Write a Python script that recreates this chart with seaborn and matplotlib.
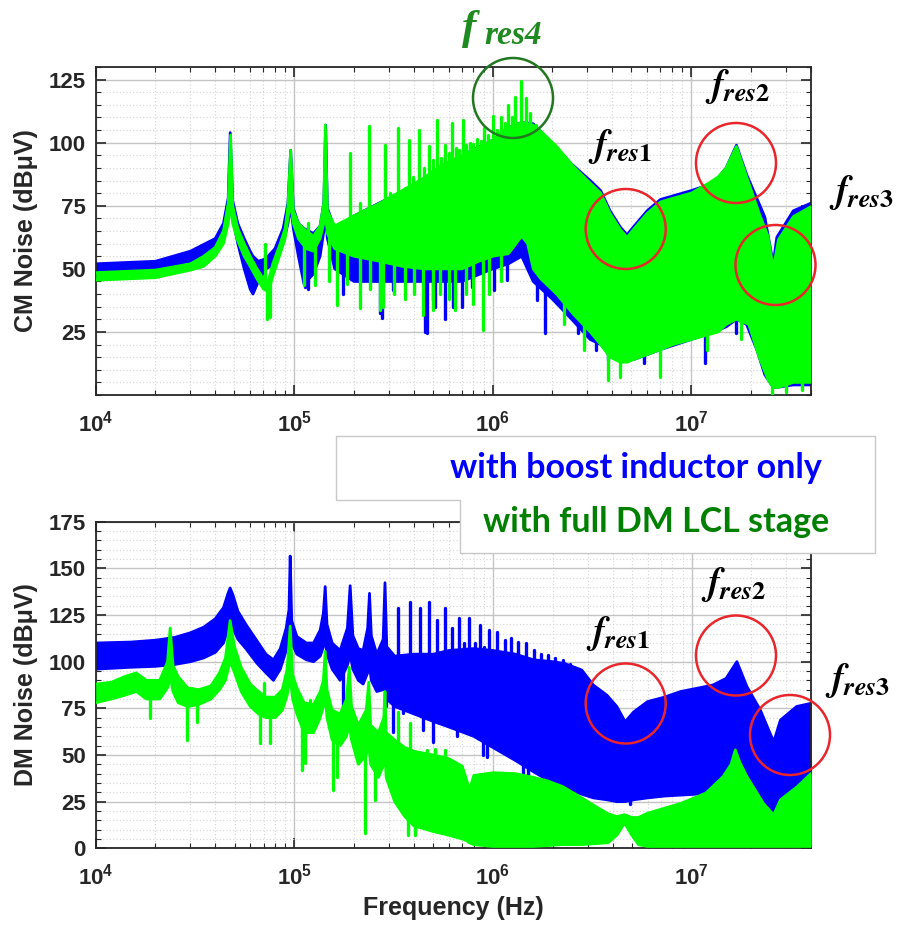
import numpy as np
import pandas as pd
import matplotlib
matplotlib.use("Agg")
import matplotlib.pyplot as plt
from matplotlib.patches import Ellipse, Polygon
from matplotlib.ticker import FixedLocator, FixedFormatter, LogLocator, MultipleLocator, NullFormatter
import seaborn as sns

BLUE = "#0000ff"
GREEN = "#00ff00"

# ---------------- CM noise: with boost inductor only (blue) ----------------
cm_blue_f = [10e3, 20e3, 30e3, 40e3, 44e3, 46.5e3, 47.6e3, 49e3, 52e3, 56e3, 60e3, 62e3,
             66e3, 72e3, 80e3, 88e3, 93e3, 96e3, 99e3, 105e3, 112e3, 125e3, 135e3, 141e3,
             144e3, 147e3, 160e3, 200e3, 300e3, 500e3, 700e3, 1e6, 1.2e6, 1.4e6, 1.6e6,
             2e6, 2.5e6, 3.1e6, 3.5e6, 3.9e6, 4.4e6, 4.75e6, 5.1e6, 6e6, 7e6, 10e6, 13e6,
             15e6, 16.9e6, 19e6, 21.4e6, 23.5e6, 25.9e6, 27e6, 32.7e6, 40e6]
cm_blue_lo = [49, 50, 53, 58, 63, 70, 78, 70, 60, 50, 42, 40,
              45, 50, 52, 60, 68, 75, 66, 55, 44, 48, 55, 65,
              70, 62, 50, 45, 45, 45, 45, 50, 52, 55, 45,
              38, 30, 22, 20, 16, 14, 14, 14, 16, 18, 22, 25,
              27, 30, 28, 18, 8, 3, 3, 4, 4]
cm_blue_hi = [52, 53, 57, 62, 68, 78, 104, 77, 68, 62, 57, 55,
              53, 54, 58, 66, 76, 97, 74, 68, 66, 64, 67, 76,
              107, 74, 66, 71, 78, 87, 95, 101, 106, 108, 107.5,
              99.5, 91.5, 85, 81, 73, 66.5, 63.5, 66.5, 73, 77.5, 81, 84,
              90, 99, 87.5, 78, 70.5, 52, 62.5, 73, 76]
cm_blue_dip_f = [113e3, 118e3, 176e3, 270e3, 276e3, 315e3, 455e3, 465e3, 500e3, 515e3,
                 575e3, 630e3, 700e3, 790e3, 1.02e6, 1.18e6, 1.45e6, 1.67e6, 1.83e6,
                 2.7e6, 3.3e6, 3.8e6, 5.8e6, 11.7e6, 16.8e6, 23e6, 36e6]
cm_blue_dip_db = [43, 42, 40, 32.5, 30.5, 41.7, 25, 24.6, 37.7, 35,
                  30, 35, 35, 43, 41.7, 45.6, 54.8, 37.7, 24.6,
                  24.6, 18, 14, 12.7, 12.7, 24.6, 15, 4.6]

# ---------------- CM noise: with full DM LCL stage (green) ----------------
cm_green_f = [10e3, 20e3, 30e3, 35e3, 40e3, 44e3, 46.5e3, 47.8e3, 49e3, 52e3, 56e3, 60e3,
              65e3, 70e3, 74e3, 78e3, 85e3, 90e3, 93e3, 96e3, 99e3, 105e3, 115e3, 125e3,
              135e3, 141e3, 143.6e3, 147e3, 160e3, 200e3, 270e3, 350e3, 450e3, 550e3,
              700e3, 850e3, 1e6, 1.2e6, 1.4e6, 1.5e6, 1.6e6, 1.75e6, 2.1e6, 2.55e6, 3.1e6,
              3.5e6, 3.9e6, 4.4e6, 4.75e6, 5.1e6, 6e6, 7e6, 8.1e6, 10e6, 12.3e6, 13.7e6,
              15e6, 16.9e6, 19.5e6, 22e6, 24.4e6, 25.9e6, 27.5e6, 32.7e6, 40e6]
cm_green_lo = [45.5, 46.5, 49.5, 51, 55, 60, 68, 76, 68, 61, 55, 51,
               46, 42, 41, 47, 56, 62, 70, 76, 68, 62, 58, 57,
               62, 68, 72, 64, 58, 55, 53, 51, 50, 50,
               50, 53, 55, 56, 63, 60, 50, 46, 40, 32, 25,
               20, 15, 13, 13, 14, 16, 18, 20, 22, 24, 25,
               28, 30, 28, 15, 6, 3, 3, 5, 5]
cm_green_hi = [48.5, 49.5, 52, 55, 58.5, 65, 76, 103, 75, 66, 60, 55,
               50, 46, 45, 52, 60, 66, 75, 97, 73, 68, 65, 63,
               67, 76, 107, 73, 67, 71, 76, 81, 86, 91,
               95, 98, 101, 106, 108, 107.5, 107, 104.5, 98.5, 90.6, 84,
               80, 72, 65.5, 62.5, 65.5, 72, 76.5, 78, 80, 84, 86.5,
               90, 98.5, 84, 72, 62.8, 50, 61.5, 70.7, 74.6]
cm_green_peak_f = [71.3e3, 117e3, 191e3, 215e3, 238e3, 260e3, 286e3, 303e3, 334e3, 360e3,
                   380e3, 398e3, 426e3, 450e3, 478e3, 500e3, 526e3, 550e3, 576e3, 600e3,
                   622e3, 650e3, 680e3, 706e3, 735e3, 769e3, 800e3, 836e3, 870e3, 904e3,
                   950e3, 1.0e6, 1.05e6, 1.097e6, 1.15e6, 1.2e6, 1.25e6, 1.295e6, 1.383e6,
                   1.472e6, 1.542e6, 1.652e6]
cm_green_peak_db = [60, 68, 96, 76, 106.5, 75, 99, 80, 106, 82,
                    101, 86.5, 105, 90, 98.8, 93, 109, 94, 99.2, 96,
                    107.8, 98, 97, 109, 99, 100, 99.5, 101.6, 100.5, 105.8,
                    103, 110.4, 105, 110.2, 108, 115, 110, 118, 124.3,
                    117.7, 111.8, 107]
cm_green_dip_f = [73e3, 75.5e3, 112e3, 127e3, 150e3, 165e3, 185e3, 215e3, 240e3, 270e3,
                  280e3, 320e3, 360e3, 400e3, 445e3, 500e3, 540e3, 600e3, 645e3, 730e3,
                  800e3, 890e3, 960e3, 1.1e6, 2.3e6, 2.9e6, 3.8e6, 4.4e6, 7e6, 12e6,
                  17.8e6, 25.5e6, 30e6, 36e6]
cm_green_dip_db = [30, 31, 43.6, 43.6, 45, 35.7, 44, 34.5, 42, 33.7,
                   35, 40, 38, 40, 31.7, 33.7, 40, 38, 33.7, 40,
                   36, 25.8, 40, 45, 28, 18, 6, 7, 7, 18,
                   22, 0.5, 1, 2]

# ---------------- DM noise: with boost inductor only (blue) ----------------
dm_blue_f = [10e3, 15e3, 20e3, 25e3, 30e3, 35e3, 40e3, 44e3, 46.5e3, 47.5e3, 49e3, 52e3,
             57e3, 65e3, 72e3, 78.5e3, 85e3, 91e3, 94e3, 95.3e3, 97e3, 103e3, 115e3, 125e3,
             135e3, 140e3, 143e3, 146e3, 155e3, 170e3, 185e3, 191e3, 197e3, 210e3, 222e3,
             234e3, 239e3, 244e3, 260e3, 280e3, 286e3, 292e3, 320e3, 400e3, 500e3, 600e3,
             800e3, 1e6, 1.3e6, 1.6e6, 2e6, 2.3e6, 2.8e6, 3.2e6, 3.75e6, 4.2e6, 4.63e6,
             5.1e6, 6e6, 7.3e6, 8.8e6, 10.6e6, 12.8e6, 14.9e6, 16.9e6, 19e6, 22.2e6, 25.9e6,
             28e6, 33.8e6, 40e6]
dm_blue_lo = [96, 97, 97.5, 98.5, 100, 102, 105, 110, 118, 122, 118, 112,
              107, 99, 94, 90, 96, 106, 114, 118, 110, 104, 101, 100,
              103, 108, 112, 104, 96, 90, 98, 104, 96, 90, 88,
              94, 98, 90, 84, 85, 88, 80, 76, 72, 68, 65,
              60, 54, 47, 41, 35, 32, 29, 27, 26, 25, 25,
              26, 27, 28, 28.5, 29, 31, 36, 40, 35, 25, 17,
              24, 30, 36]
dm_blue_hi = [110, 110.5, 111.5, 113, 115.5, 118.5, 123, 129, 137, 139.5, 136, 127,
              120, 111, 104, 101, 107, 118, 128, 156.6, 122, 113.5, 110, 110,
              117, 126, 140.2, 120, 110, 106, 118, 140.7, 114, 107, 106,
              118, 136.6, 114, 104, 112, 142.3, 108, 103, 104, 104, 106,
              107, 106, 104, 101, 100, 99, 95.5, 87.5, 82, 76, 67.8,
              73, 78.6, 81, 84, 85.7, 87.5, 91, 100, 86.6, 74, 57,
              68.7, 76, 77.7]
dm_blue_peak_f = [334e3, 380e3, 431e3, 479e3, 524e3, 574e3, 620e3, 675e3, 715e3, 760e3,
                  810e3, 860e3, 905e3, 955e3, 1.05e6, 1.15e6, 1.23e6, 1.34e6, 1.47e6,
                  1.61e6, 1.75e6, 1.9e6, 2.05e6, 2.25e6, 2.45e6, 2.7e6]
dm_blue_peak_db = [128.5, 132, 128.7, 132, 122.3, 128.7, 118, 123.2, 110, 123.2,
                   110, 119.6, 108, 117, 116, 111.6, 112.5, 110.7, 109.8,
                   106.2, 104, 103.5, 102, 101, 99, 96]
dm_blue_dip_f = [176e3, 290e3, 314e3, 354e3, 443e3, 500e3, 660e3, 890e3, 930e3, 1.42e6,
                 1.5e6, 1.87e6, 2.4e6, 4.9e6]
dm_blue_dip_db = [75, 76, 62.5, 72.5, 63.4, 57, 60, 50, 49, 38.4,
                  36.6, 29.6, 26, 24]

# ---------------- DM noise: with full DM LCL stage (green) ----------------
dm_green_f = [10e3, 12e3, 14e3, 16e3, 18e3, 21e3, 23e3, 23.7e3, 24.5e3, 26e3, 29e3, 33e3,
              38e3, 42e3, 45e3, 47.5e3, 50e3, 54e3, 60e3, 66e3, 72e3, 80e3, 87e3, 92e3,
              95.3e3, 98e3, 103e3, 112e3, 125e3, 135e3, 140e3, 143e3, 146e3, 155e3, 170e3,
              183e3, 189e3, 194e3, 210e3, 230e3, 237e3, 242e3, 265e3, 282e3, 286e3, 290e3,
              320e3, 360e3, 400e3, 500e3, 600e3, 700e3, 740e3, 760e3, 800e3, 1e6, 1.3e6,
              1.6e6, 1.9e6, 2.25e6, 2.8e6, 3.3e6, 3.8e6, 4.2e6, 4.6e6, 5.0e6, 5.4e6, 6e6,
              8.8e6, 11.8e6, 14.4e6, 15.8e6, 16.6e6, 17.5e6, 19e6, 23e6, 25.9e6, 28e6,
              34e6, 40e6]
dm_green_lo = [78, 80, 82, 84, 80, 80, 86, 92, 84, 78, 76, 77,
               80, 85, 90, 100, 94, 84, 76, 72, 70, 70, 74, 82,
               92, 80, 72, 62, 62, 70, 76, 82, 70, 58, 55,
               60, 66, 58, 45, 50, 55, 45, 38, 45, 50, 38,
               25, 17, 12, 9, 7, 5, 4, 3, 2, 1, 1,
               1, 1.5, 2, 2, 2.5, 3, 7, 13.5, 7, 2, 1,
               1, 1, 1, 1, 1, 1, 1, 1, 1, 1,
               1, 1]
dm_green_hi = [88, 89, 92, 94, 90, 90, 100, 118, 98, 92, 86, 85,
               87, 94, 102, 122, 108, 97, 88, 84, 81, 81, 85, 96,
               119, 93, 86, 78, 77, 84, 90, 105.5, 85, 74, 72,
               80, 97, 76, 66, 74, 89, 66, 62, 70, 84, 62,
               58, 54, 52, 50, 48, 44, 36, 31, 39, 40.5, 40,
               38, 36, 33, 27, 22.3, 18.5, 17, 18, 16.5, 16.5, 18.8,
               24, 29.6, 38.4, 45, 52.7, 46, 38.4, 24, 17.9, 26,
               33, 40.2]
dm_green_peak_f = [70e3, 120e3, 176e3, 334e3, 380e3, 464e3, 510e3, 575e3]
dm_green_peak_db = [88.5, 79.5, 73.2, 73.2, 67, 52.7, 53.2, 52.7]
dm_green_dip_f = [18.7e3, 28.7e3, 32.2e3, 67e3, 75.4e3, 109e3, 113e3, 157e3, 164e3,
                  227e3, 254e3, 374e3, 404e3]
dm_green_dip_db = [69.7, 58, 67.8, 56.3, 56.3, 42, 45.6, 31, 38.4,
                   8.2, 26, 7.1, 7.1]

x_ticks = [1e4, 1e5, 1e6, 1e7]
x_labels = [r"$\mathbf{10^{4}}$", r"$\mathbf{10^{5}}$", r"$\mathbf{10^{6}}$", r"$\mathbf{10^{7}}$"]
cm_yticks = [25, 50, 75, 100, 125]
dm_yticks = [0, 25, 50, 75, 100, 125, 150, 175]

sns.set_theme(style="white")
plt.rcParams["font.family"] = ["Liberation Sans", "DejaVu Sans"]
plt.rcParams["font.weight"] = "bold"
plt.rcParams["axes.labelweight"] = "bold"
plt.rcParams["mathtext.fontset"] = "custom"
plt.rcParams["mathtext.bf"] = "Liberation Sans:bold"
plt.rcParams["mathtext.rm"] = "Liberation Sans:bold"

W, H = 901, 930
fig = plt.figure(figsize=(W / 100, H / 100), dpi=100)
fig.patch.set_facecolor("white")


def fx(px):
    return px / W


def fy(py):
    return 1 - py / H


ax_cm = fig.add_axes([fx(95.7), fy(395), (810.7 - 95.7) / W, (395 - 67) / H])
ax_dm = fig.add_axes([fx(95.7), fy(848.3), (811.2 - 95.7) / W, (848.3 - 521.7) / H])


def draw_band(ax, f, lo, hi, color, z):
    f = np.asarray(f, float)
    ax.fill_between(f, lo, hi, color=color, lw=0, zorder=z)
    for edge in (lo, hi):
        sns.lineplot(x=f, y=np.asarray(edge, float), color=color, lw=2.0, ax=ax,
                     estimator=None, sort=False, zorder=z)


def draw_spikes(ax, band_f, lo, hi, spike_f, spike_db, color, z):
    logf = np.log10(np.asarray(band_f, float))
    mid = (np.asarray(lo, float) + np.asarray(hi, float)) / 2
    rows = []
    for i, (sf, sd) in enumerate(zip(spike_f, spike_db)):
        base = np.interp(np.log10(sf), logf, mid)
        rows.append((sf, base, i))
        rows.append((sf, sd, i))
    df = pd.DataFrame(rows, columns=["f", "db", "sid"])
    sns.lineplot(data=df, x="f", y="db", units="sid", estimator=None, sort=False,
                 color=color, lw=2.4, ax=ax, legend=False, zorder=z)


def style_axes(ax, ymax, yticks, ylabel):
    ax.set_xscale("log")
    ax.set_xlim(1e4, 4e7)
    ax.set_ylim(0, ymax)
    ax.xaxis.set_major_locator(FixedLocator(x_ticks))
    ax.xaxis.set_major_formatter(FixedFormatter(x_labels))
    ax.xaxis.set_minor_locator(LogLocator(base=10, subs=np.arange(2, 10)))
    ax.xaxis.set_minor_formatter(NullFormatter())
    ax.yaxis.set_major_locator(FixedLocator(yticks))
    ax.yaxis.set_major_formatter(FixedFormatter([str(v) for v in yticks]))
    ax.yaxis.set_minor_locator(MultipleLocator(5))
    ax.set_axisbelow(True)
    ax.grid(which="major", color="#c4c4c4", lw=1.0, ls="-")
    ax.grid(which="minor", color="#d4d4d4", lw=0.8, ls=(0, (1, 2)))
    ax.tick_params(which="both", direction="in", top=True, right=True,
                   bottom=True, left=True, colors="#262626")
    ax.tick_params(which="major", length=7, width=1.2, labelsize=16)
    ax.tick_params(axis="y", which="major", pad=7)
    ax.tick_params(axis="x", which="major", pad=11)
    ax.tick_params(which="minor", length=3.5, width=0.8)
    for lab in ax.get_yticklabels():
        lab.set_fontweight("bold")
    for s in ax.spines.values():
        s.set_color("#262626")
        s.set_linewidth(1.3)
    ax.set_ylabel(ylabel, fontsize=18, fontweight="bold", labelpad=8)
    ax.set_facecolor("white")


# CM panel
draw_band(ax_cm, cm_blue_f, cm_blue_lo, cm_blue_hi, BLUE, 2)
draw_spikes(ax_cm, cm_blue_f, cm_blue_lo, cm_blue_hi, cm_blue_dip_f, cm_blue_dip_db, BLUE, 2)
draw_band(ax_cm, cm_green_f, cm_green_lo, cm_green_hi, GREEN, 3)
draw_spikes(ax_cm, cm_green_f, cm_green_lo, cm_green_hi, cm_green_peak_f, cm_green_peak_db, GREEN, 3)
draw_spikes(ax_cm, cm_green_f, cm_green_lo, cm_green_hi, cm_green_dip_f, cm_green_dip_db, GREEN, 3)
style_axes(ax_cm, 130, cm_yticks, "CM Noise (dBμV)")
ax_cm.set_xlabel("")

# DM panel
draw_band(ax_dm, dm_blue_f, dm_blue_lo, dm_blue_hi, BLUE, 2)
draw_spikes(ax_dm, dm_blue_f, dm_blue_lo, dm_blue_hi, dm_blue_peak_f, dm_blue_peak_db, BLUE, 2)
draw_spikes(ax_dm, dm_blue_f, dm_blue_lo, dm_blue_hi, dm_blue_dip_f, dm_blue_dip_db, BLUE, 2)
draw_band(ax_dm, dm_green_f, dm_green_lo, dm_green_hi, GREEN, 3)
draw_spikes(ax_dm, dm_green_f, dm_green_lo, dm_green_hi, dm_green_peak_f, dm_green_peak_db, GREEN, 3)
draw_spikes(ax_dm, dm_green_f, dm_green_lo, dm_green_hi, dm_green_dip_f, dm_green_dip_db, GREEN, 3)
style_axes(ax_dm, 175, dm_yticks, "DM Noise (dBμV)")
ax_dm.set_xlabel("Frequency (Hz)", fontsize=18, fontweight="bold", labelpad=5)

# resonance markers
RED = "#e8262b"
DKGREEN = "#217821"
circles = [((513, 98), DKGREEN), ((625.7, 229), RED), ((736, 163), RED), ((775.5, 265), RED),
           ((625.7, 703.5), RED), ((736, 655.5), RED), ((790, 735), RED)]
for (cx, cy), col in circles:
    fig.add_artist(Ellipse((fx(cx), fy(cy)), 80 / W, 80 / H, transform=fig.transFigure,
                           fill=False, ec=col, lw=1.8, zorder=4))

labels = [((620, 146), r"$f_{res1}$"), ((738, 87), r"$f_{res2}$"), ((862, 192), r"$f_{res3}$"),
          ((618, 633), r"$f_{res1}$"), ((734, 585), r"$f_{res2}$"), ((858, 680), r"$f_{res3}$")]
for (cx, cy), s in labels:
    fig.text(fx(cx), fy(cy), s, math_fontfamily="stix", fontsize=27, fontweight="normal",
             ha="center", va="center", color="black", zorder=6)

# green resonance label, bold italic serif
fig.text(fx(462), fy(39), "f", family=["Liberation Serif"], style="italic", weight="bold",
         fontsize=31, color="#1f8a1f", ha="left", va="baseline", zorder=6)
fig.text(fx(484), fy(44), "res4", family=["Liberation Serif"], style="italic", weight="bold",
         fontsize=24, color="#1f8a1f", ha="left", va="baseline", zorder=6)

# legend box
pts = [(336, 436), (875, 436), (875, 553), (460, 553), (460, 500), (336, 500)]
fig.add_artist(Polygon([(fx(x), fy(y)) for x, y in pts], closed=True, transform=fig.transFigure,
                       fc="white", ec="#c8c8c8", lw=1.0, zorder=5))
fig.text(fx(636), fy(468), "with boost inductor only", color=BLUE, fontsize=24.5,
         fontweight="bold", family=["Lato", "DejaVu Sans"], ha="center", va="center", zorder=6)
fig.text(fx(656), fy(522), "with full DM LCL stage", color="#008000", fontsize=24.5,
         fontweight="bold", family=["Lato", "DejaVu Sans"], ha="center", va="center", zorder=6)

fig.savefig("out.png", dpi=100, facecolor="white")
